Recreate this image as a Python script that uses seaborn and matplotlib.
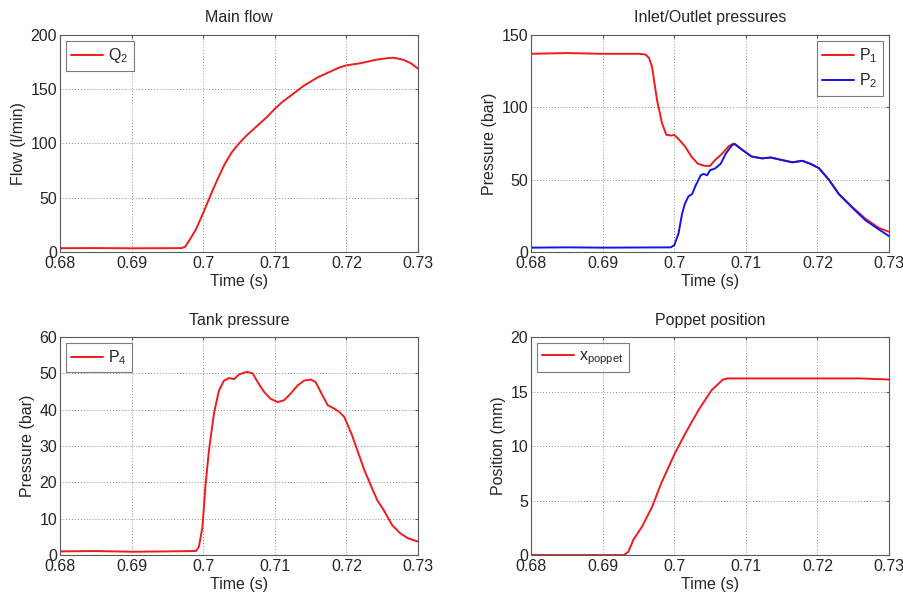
import numpy as np
import pandas as pd
import matplotlib
matplotlib.use("Agg")
import matplotlib.pyplot as plt
import seaborn as sns

# ---- Main flow Q2 (l/min) ----
t_q2 = [0.680, 0.685, 0.690, 0.695, 0.697, 0.6975, 0.698, 0.699, 0.700, 0.701,
        0.702, 0.703, 0.704, 0.705, 0.706, 0.707, 0.708, 0.709, 0.710, 0.711,
        0.712, 0.713, 0.714, 0.715, 0.716, 0.717, 0.718, 0.719, 0.720, 0.721,
        0.722, 0.723, 0.724, 0.725, 0.726, 0.7265, 0.727, 0.728, 0.729, 0.730]
q2 = [3.5, 3.6, 3.4, 3.5, 3.6, 5.0, 10.0, 21.0, 36.0, 52.0,
      67.0, 81.0, 92.0, 100.0, 107.0, 113.0, 119.0, 125.0, 132.0, 138.0,
      143.0, 148.0, 153.0, 157.0, 161.0, 164.0, 167.0, 170.0, 172.0, 173.0,
      174.0, 175.5, 177.0, 178.0, 178.8, 179.0, 178.5, 177.0, 174.0, 169.0]

# ---- Inlet pressure P1 (bar) ----
t_p1 = [0.680, 0.685, 0.690, 0.695, 0.696, 0.6965, 0.6969, 0.6976, 0.6983, 0.6989,
        0.6996, 0.7000, 0.7008, 0.7015, 0.7024, 0.7033, 0.7043, 0.7050, 0.7057, 0.7067,
        0.7076, 0.7083, 0.7094, 0.7108, 0.7123, 0.7135, 0.7151, 0.7165, 0.7179, 0.7190,
        0.7202, 0.7216, 0.7230, 0.7249, 0.7267, 0.7286, 0.7300]
p1 = [137.0, 137.5, 137.0, 137.0, 136.5, 134.0, 128.0, 105.0, 89.0, 81.0,
      80.5, 81.0, 77.0, 73.0, 66.0, 61.0, 59.5, 59.5, 63.5, 68.0,
      73.0, 75.0, 71.0, 66.0, 64.7, 65.3, 63.5, 62.0, 63.0, 61.0,
      58.0, 50.0, 40.0, 31.0, 23.0, 16.6, 14.0]

# ---- Outlet pressure P2 (bar) ----
t_p2 = [0.680, 0.685, 0.690, 0.695, 0.6995, 0.7000, 0.7006, 0.7011, 0.7015, 0.7020,
        0.7025, 0.7030, 0.7037, 0.7041, 0.7046, 0.7050, 0.7057, 0.7065, 0.7072, 0.7081,
        0.7085, 0.7094, 0.7108, 0.7123, 0.7135, 0.7151, 0.7165, 0.7179, 0.7190, 0.7202,
        0.7216, 0.7230, 0.7249, 0.7267, 0.7286, 0.7300]
p2 = [3.0, 3.2, 3.0, 3.1, 3.2, 4.6, 12.7, 26.5, 33.5, 38.5,
      40.0, 46.0, 53.0, 54.0, 53.0, 56.5, 57.7, 61.0, 68.0, 74.0,
      74.6, 71.0, 66.0, 64.7, 65.3, 63.5, 62.0, 63.0, 61.0, 58.0,
      50.0, 40.0, 30.5, 22.0, 15.5, 11.0]

# ---- Tank pressure P4 (bar) ----
t_p4 = [0.680, 0.685, 0.690, 0.695, 0.699, 0.6994, 0.6999, 0.7003, 0.7008, 0.7015,
        0.7022, 0.7029, 0.7036, 0.7043, 0.7050, 0.7061, 0.7069, 0.7076, 0.7085, 0.7094,
        0.7104, 0.7113, 0.7122, 0.7132, 0.7141, 0.7150, 0.7157, 0.7164, 0.7174, 0.7183,
        0.7190, 0.7197, 0.7207, 0.7216, 0.7225, 0.7234, 0.7243, 0.7252, 0.7264, 0.7275,
        0.7286, 0.7300]
p4 = [1.0, 1.1, 0.9, 1.0, 1.1, 2.3, 7.8, 18.8, 28.8, 39.0,
      45.3, 48.0, 48.7, 48.4, 49.7, 50.4, 50.0, 47.6, 44.9, 43.0,
      42.1, 42.6, 44.4, 46.7, 48.0, 48.3, 47.6, 44.9, 41.2, 40.3,
      39.4, 38.0, 33.4, 28.4, 23.4, 19.2, 15.1, 12.4, 8.2, 6.0,
      4.6, 3.7]

# ---- Poppet position (mm) ----
t_x = [0.680, 0.690, 0.693, 0.6936, 0.6943, 0.6955, 0.6969, 0.6982, 0.7000, 0.7015,
       0.7034, 0.7052, 0.7068, 0.7075, 0.710, 0.715, 0.720, 0.726, 0.730]
x_poppet = [0.0, 0.0, 0.0, 0.3, 1.4, 2.6, 4.4, 6.6, 9.2, 11.1,
            13.3, 15.1, 16.1, 16.2, 16.2, 16.2, 16.2, 16.2, 16.1]

x_ticks = [0.68, 0.69, 0.70, 0.71, 0.72, 0.73]
x_tick_labels = ["0.68", "0.69", "0.7", "0.71", "0.72", "0.73"]

sns.set_style("white")
plt.rcParams["font.family"] = ["Liberation Sans", "DejaVu Sans"]
plt.rcParams["font.size"] = 11.5
plt.rcParams["mathtext.fontset"] = "custom"
plt.rcParams["mathtext.rm"] = "Liberation Sans"

FS = 11.5
RED = "#ee1c1c"
BLUE = "#1414e6"
EDGE = "#5a5a5a"

fig = plt.figure(figsize=(9.04, 5.95), dpi=100)
ax_q = fig.add_axes([0.0664, 0.5765, 0.396, 0.3647])
ax_p = fig.add_axes([0.5874, 0.5765, 0.396, 0.3647])
ax_t = fig.add_axes([0.0664, 0.0672, 0.396, 0.3664])
ax_x = fig.add_axes([0.5874, 0.0672, 0.396, 0.3664])


def style(ax, title, ylabel, ylim, yticks):
    ax.set_xlim(0.68, 0.73)
    ax.set_ylim(*ylim)
    ax.set_xticks(x_ticks)
    ax.set_xticklabels(x_tick_labels)
    ax.set_yticks(yticks)
    ax.set_title(title, fontsize=FS, pad=9)
    ax.set_xlabel("Time (s)", fontsize=FS, labelpad=2)
    ax.set_ylabel(ylabel, fontsize=FS, labelpad=3)
    ax.grid(True, linestyle=(0, (1, 2)), color="#8c8c8c", linewidth=0.7)
    for s in ax.spines.values():
        s.set_color(EDGE)
        s.set_linewidth(0.8)
    ax.tick_params(direction="in", length=2, color=EDGE, labelsize=FS,
                   top=True, right=True, pad=2)
    ax.tick_params(axis="x", pad=3)


def legend(ax, loc):
    leg = ax.legend(loc=loc, frameon=True, fancybox=False, handlelength=2.0,
                    handletextpad=0.3, borderpad=0.35, fontsize=FS,
                    borderaxespad=0.35, labelspacing=0.4)
    leg.get_frame().set_edgecolor(EDGE)
    leg.get_frame().set_linewidth(0.8)


# Main flow
sns.lineplot(x=t_q2, y=q2, ax=ax_q, color=RED, linewidth=1.4,
             label=r"Q$_{\mathregular{2}}$")
style(ax_q, "Main flow", "Flow (l/min)", (0, 200), [0, 50, 100, 150, 200])
legend(ax_q, "upper left")

# Inlet / outlet pressures
df_p = pd.concat([
    pd.DataFrame({"t": t_p1, "p": p1, "s": r"P$_{\mathregular{1}}$"}),
    pd.DataFrame({"t": t_p2, "p": p2, "s": r"P$_{\mathregular{2}}$"}),
])
sns.lineplot(data=df_p, x="t", y="p", hue="s", ax=ax_p,
             palette=[RED, BLUE], linewidth=1.4)
style(ax_p, "Inlet/Outlet pressures", "Pressure (bar)", (0, 150), [0, 50, 100, 150])
ax_p.get_legend().set_title(None)
legend(ax_p, "upper right")

# Tank pressure
sns.lineplot(x=t_p4, y=p4, ax=ax_t, color=RED, linewidth=1.4,
             label=r"P$_{\mathregular{4}}$")
style(ax_t, "Tank pressure", "Pressure (bar)", (0, 60), [0, 10, 20, 30, 40, 50, 60])
legend(ax_t, "upper left")

# Poppet position
sns.lineplot(x=t_x, y=x_poppet, ax=ax_x, color=RED, linewidth=1.4,
             label=r"x$_{\mathregular{poppet}}$")
style(ax_x, "Poppet position", "Position (mm)", (0, 20), [0, 5, 10, 15, 20])
legend(ax_x, "upper left")

fig.savefig("out.png", dpi=100)
